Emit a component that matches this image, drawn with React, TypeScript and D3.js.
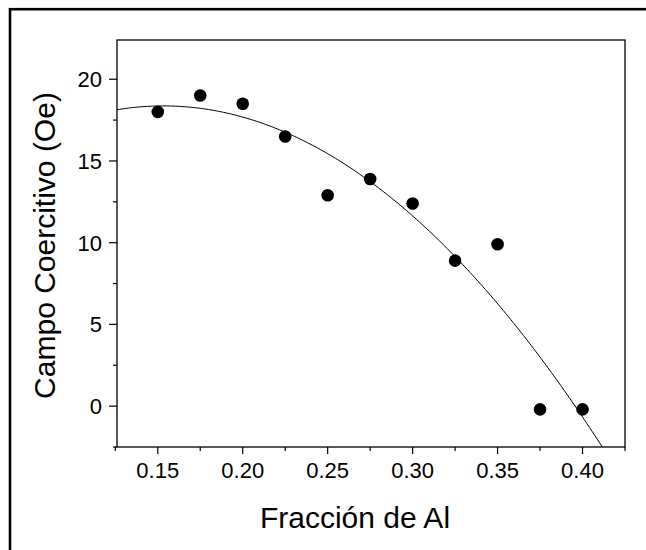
import React from "react";
import * as d3 from "d3";

const alFraction = [0.15, 0.175, 0.2, 0.225, 0.25, 0.275, 0.3, 0.325, 0.35, 0.375, 0.4];
const coerciveField = [18.0, 19.0, 18.5, 16.5, 12.9, 13.9, 12.4, 8.9, 9.9, -0.2, -0.2];
const xMajorTicks = [0.15, 0.2, 0.25, 0.3, 0.35, 0.4];
const xMinorTicks = [0.125, 0.175, 0.225, 0.275, 0.325, 0.375, 0.425];
const yMajorTicks = [0, 5, 10, 15, 20];
const yMinorTicks = [-2.5, 2.5, 7.5, 12.5, 17.5];
const xTitle = "Fracción de Al";
const yTitle = "Campo Coercitivo (Oe)";

// least-squares quadratic fit of the data (as in the original figure)
function quadFit(xs: number[], ys: number[]) {
  const n = xs.length;
  let s0 = n, s1 = 0, s2 = 0, s3 = 0, s4 = 0, t0 = 0, t1 = 0, t2 = 0;
  for (let i = 0; i < n; i++) {
    const x = xs[i], y = ys[i];
    s1 += x; s2 += x * x; s3 += x * x * x; s4 += x * x * x * x;
    t0 += y; t1 += x * y; t2 += x * x * y;
  }
  const M = [
    [s0, s1, s2, t0],
    [s1, s2, s3, t1],
    [s2, s3, s4, t2],
  ];
  for (let c = 0; c < 3; c++) {
    let p = c;
    for (let r = c + 1; r < 3; r++) if (Math.abs(M[r][c]) > Math.abs(M[p][c])) p = r;
    [M[c], M[p]] = [M[p], M[c]];
    for (let r = 0; r < 3; r++) {
      if (r === c) continue;
      const f = M[r][c] / M[c][c];
      for (let k = c; k < 4; k++) M[r][k] -= f * M[c][k];
    }
  }
  return [M[0][3] / M[0][0], M[1][3] / M[1][1], M[2][3] / M[2][2]];
}

export default function App() {
  const W = 646, H = 550;
  const left = 117, right = 625, top = 40, bottom = 447;
  const x = d3.scaleLinear().domain([0.126, 0.425]).range([left, right]);
  const y = d3.scaleLinear().domain([-2.5, 22.4]).range([bottom, top]);
  const [a0, a1, a2] = quadFit(alFraction, coerciveField);
  const xs = d3.range(0, 201).map((i) => 0.126 + (0.425 - 0.126) * (i / 200));
  const line = d3
    .line<number>()
    .x((d) => x(d))
    .y((d) => y(a0 + a1 * d + a2 * d * d));
  const font = "'Liberation Sans', Arial, sans-serif";
  return (
    <svg
      width={W}
      height={H}
      style={{ position: "absolute", left: 0, top: 0, background: "#fff" }}
      fontFamily={font}
    >
      <rect x={0} y={0} width={W} height={H} fill="#fff" />
      <rect x={10} y={9.2} width={W + 20} height={H + 20} fill="none" stroke="#000" strokeWidth={2.6} />
      <defs>
        <clipPath id="plotclip">
          <rect x={left} y={top} width={right - left} height={bottom - top} />
        </clipPath>
      </defs>
      <path d={line(xs) || ""} fill="none" stroke="#000" strokeWidth={1} clipPath="url(#plotclip)" />
      {alFraction.map((d, i) => (
        <circle key={i} cx={x(d)} cy={y(coerciveField[i])} r={6.3} fill="#000" />
      ))}
      <rect x={left} y={top} width={right - left} height={bottom - top} fill="none" stroke="#000" strokeWidth={1.3} />
      {xMajorTicks.map((t) => (
        <g key={t}>
          <line x1={x(t)} x2={x(t)} y1={bottom} y2={bottom + 7} stroke="#000" strokeWidth={1.2} />
          <text x={x(t)} y={478} textAnchor="middle" fontSize={22}>
            {t.toFixed(2)}
          </text>
        </g>
      ))}
      {xMinorTicks.map((t) => (
        <line key={t} x1={x(t)} x2={x(t)} y1={bottom} y2={bottom + 4} stroke="#000" strokeWidth={1.2} />
      ))}
      {yMajorTicks.map((t) => (
        <g key={t}>
          <line x1={left - 8} x2={left} y1={y(t)} y2={y(t)} stroke="#000" strokeWidth={1.2} />
          <text x={102} y={y(t) + 8} textAnchor="end" fontSize={22}>
            {t}
          </text>
        </g>
      ))}
      {yMinorTicks.map((t) => (
        <line key={t} x1={left - 4} x2={left} y1={y(t)} y2={y(t)} stroke="#000" strokeWidth={1.2} />
      ))}
      <text x={355} y={528} textAnchor="middle" fontSize={30}>
        {xTitle}
      </text>
      <text
        transform={`translate(55, ${(top + bottom) / 2 + 2}) rotate(-90)`}
        textAnchor="middle"
        fontSize={30}
      >
        {yTitle}
      </text>
    </svg>
  );
}
